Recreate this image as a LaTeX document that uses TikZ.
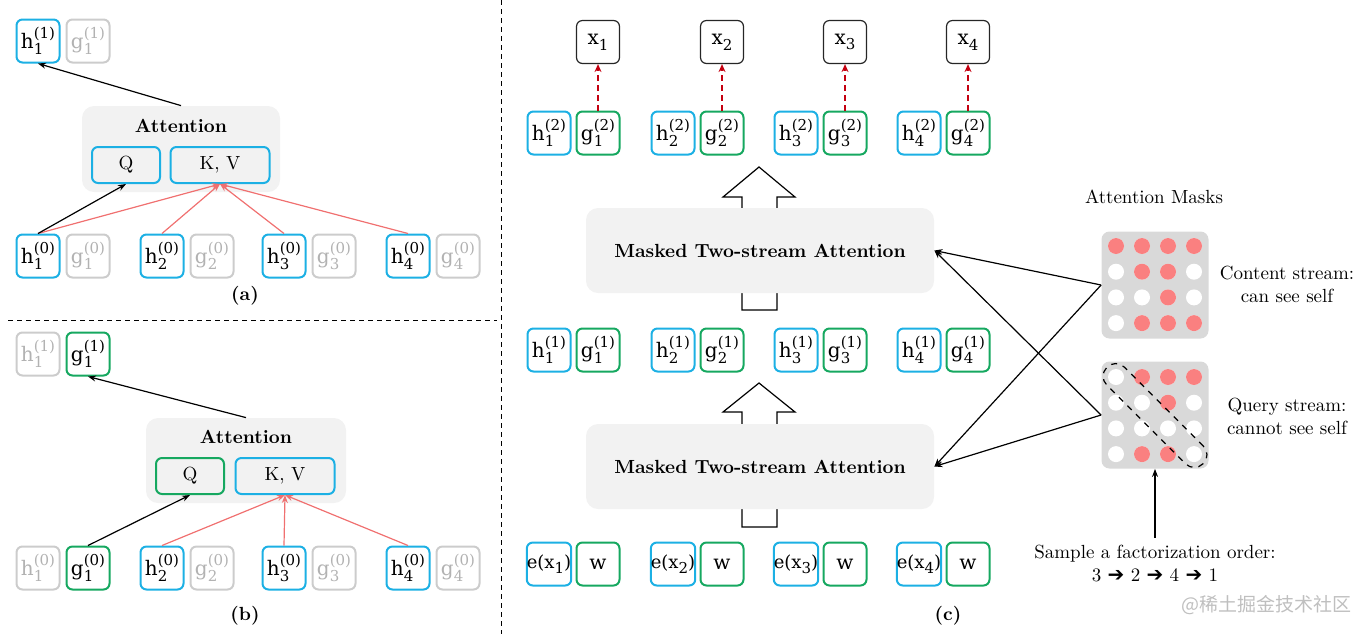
\documentclass[tikz,border=0pt]{standalone}
\usepackage{fontspec}
\newfontfamily\boxfont{DejaVu Serif}
\newfontfamily\symfont{DejaVu Sans}
\newfontfamily\cjk{Noto Sans CJK SC}
\usetikzlibrary{arrows.meta}
\definecolor{hblue}{RGB}{28,176,228}
\definecolor{ggreen}{RGB}{22,168,96}
\definecolor{offline}{RGB}{204,204,204}
\definecolor{offtext}{RGB}{178,178,178}
\definecolor{attfill}{RGB}{242,242,242}
\definecolor{kvred}{RGB}{240,112,112}
\definecolor{outred}{RGB}{196,0,16}
\definecolor{maskgray}{RGB}{217,217,217}
\definecolor{maskred}{RGB}{250,128,128}
\newcommand{\hg}[3]{#1\rlap{\raisebox{-0.55ex}{\fontsize{7.5}{9}\selectfont #2}}\raisebox{0.95ex}{\fontsize{7.5}{9}\selectfont(#3)}}
\newcommand{\xs}[2]{#1\raisebox{-0.55ex}{\fontsize{7.5}{9}\selectfont #2}}
\tikzset{
	cell/.style={rounded corners=3pt, line width=1pt, minimum width=21.5pt, minimum height=21.5pt, inner sep=0pt, font=\boxfont\fontsize{10}{12}\selectfont},
	hcell/.style={cell, draw=hblue},
	gcell/.style={cell, draw=ggreen},
	offcell/.style={cell, draw=offline, text=offtext},
	xcell/.style={cell, draw=black!85, line width=0.6pt},
	attbox/.style={fill=attfill, rounded corners=6pt, inner sep=0pt},
	qkv/.style={draw, rounded corners=3pt, line width=1pt, minimum height=18pt, inner sep=0pt},
	maskbox/.style={fill=maskgray, rounded corners=4pt, minimum size=53.5pt, inner sep=0pt},
	dotw/.style={circle, fill=white, minimum size=8pt, inner sep=0pt},
	dotr/.style={circle, fill=maskred, minimum size=8pt, inner sep=0pt},
	sep/.style={dash pattern=on 2.5pt off 2pt, line width=0.5pt}
}
\begin{document}
\begin{tikzpicture}[x=0.5pt, y=-0.5pt, font=\fontsize{9.5}{11.5}\selectfont, >={Stealth[length=4pt,width=3pt]}]
	\useasboundingbox (0,0) rectangle (1358,634);
	\draw[sep] (8,320) -- (497,320);
	\draw[sep] (501,0) -- (501,634);
	% (a)
	\node[hcell] (hta) at (38,41) {\hg{h}{1}{1}};
	\node[offcell] (gta) at (88,41) {\hg{g}{1}{1}};
	\node[attbox, minimum width=99pt, minimum height=43pt] (attA) at (181,149) {};
	\node[font=\bfseries\fontsize{9.5}{11.5}\selectfont] (attAt) at (181,126) {Attention};
	\node[qkv, draw=hblue, minimum width=34pt] (qA) at (126,165) {Q};
	\node[qkv, draw=hblue, minimum width=49.5pt] (kvA) at (220,165) {K, V};
	\foreach \i/\x in {1/38,2/162,3/284,4/408}{
		\node[hcell] (ha\i) at (\x,256) {\hg{h}{\i}{0}};
		\node[offcell] (ga\i) at (\x+50,256) {\hg{g}{\i}{0}};
		\draw[kvred, line width=0.6pt, ->] (ha\i.north) -- (kvA.south);
	}
	\draw[line width=0.6pt, ->] (ha1.north) -- (qA.south);
	\draw[line width=0.6pt, ->] (attA.north) -- (hta.south);
	\node[font=\bfseries\fontsize{9.5}{11.5}\selectfont] (capA) at (245,296) {(a)};
	% (b)
	\node[offcell] (htb) at (38,354) {\hg{h}{1}{1}};
	\node[gcell] (gtb) at (88,354) {\hg{g}{1}{1}};
	\node[attbox, minimum width=100pt, minimum height=42.5pt] (attB) at (246,460.5) {};
	\node[font=\bfseries\fontsize{9.5}{11.5}\selectfont] (attBt) at (246,437) {Attention};
	\node[qkv, draw=ggreen, minimum width=34pt] (qB) at (190,476) {Q};
	\node[qkv, draw=hblue, minimum width=49.5pt] (kvB) at (285,476) {K, V};
	\node[offcell] (hb1) at (38,568) {\hg{h}{1}{0}};
	\node[gcell] (gb1) at (88,568) {\hg{g}{1}{0}};
	\foreach \i/\x in {2/162,3/284,4/408}{
		\node[hcell] (hb\i) at (\x,568) {\hg{h}{\i}{0}};
		\node[offcell] (gb\i) at (\x+50,568) {\hg{g}{\i}{0}};
		\draw[kvred, line width=0.6pt, ->] (hb\i.north) -- (kvB.south);
	}
	\draw[line width=0.6pt, ->] (gb1.north) -- (qB.south);
	\draw[line width=0.6pt, ->] (attB.north) -- (gtb.south);
	\node[font=\bfseries\fontsize{9.5}{11.5}\selectfont] (capB) at (245,616) {(b)};
	% (c)
	\filldraw[fill=white, line width=0.6pt] (742,310) -- (742,197) -- (723,197) -- (759,167) -- (795,197) -- (777,197) -- (777,310) -- cycle;
	\filldraw[fill=white, line width=0.6pt] (742,527) -- (742,412) -- (723,412) -- (759,383) -- (795,412) -- (777,412) -- (777,527) -- cycle;
	\node[attbox, minimum width=174pt, minimum height=42.5pt, font=\bfseries\fontsize{9.5}{11.5}\selectfont] (mtsA) at (760,250.5) {Masked Two-stream Attention};
	\node[attbox, minimum width=174pt, minimum height=42.5pt, font=\bfseries\fontsize{9.5}{11.5}\selectfont] (mtsB) at (760,466.5) {Masked Two-stream Attention};
	\foreach \i/\x in {1/549,2/673,3/796,4/919}{
		\node[xcell] (x\i) at (\x+49,42) {\xs{x}{\i}};
		\node[hcell] (hc\i) at (\x,133) {\hg{h}{\i}{2}};
		\node[gcell] (gc\i) at (\x+49,133) {\hg{g}{\i}{2}};
		\node[hcell] (hm\i) at (\x,350) {\hg{h}{\i}{1}};
		\node[gcell] (gm\i) at (\x+49,350) {\hg{g}{\i}{1}};
		\node[hcell, font=\boxfont\fontsize{9}{11}\selectfont] (e\i) at (\x,564) {e(\xs{x}{\i})};
		\node[gcell] (w\i) at (\x+49,564) {w};
		\draw[outred, line width=1.2pt, dash pattern=on 3pt off 2pt, -{Stealth[length=4pt,width=3.5pt]}] (gc\i.north) -- (x\i.south);
	}
	\node (masks) at (1154,197) {Attention Masks};
	\node[maskbox] (mc) at (1155,285) {};
	\node[maskbox] (mq) at (1155,415) {};
	\foreach \c in {1,...,4}{
		\foreach \r in {1,...,4}{
			\node[dotw] (mcw\c\r) at (1116+26*\c-26,246+25.7*\r-25.7) {};
			\node[dotw] (mqw\c\r) at (1116+26*\c-26,377+25.7*\r-25.7) {};
		}
	}
	\foreach \c/\r in {1/1,2/1,3/1,4/1,2/2,3/2,3/3,2/4,3/4,4/4}{
		\node[dotr] (mcr\c\r) at (1116+26*\c-26,246+25.7*\r-25.7) {};
	}
	\foreach \c/\r in {2/1,3/1,4/1,3/2,2/4,3/4}{
		\node[dotr] (mqr\c\r) at (1116+26*\c-26,377+25.7*\r-25.7) {};
	}
	\node[draw, dashed, line width=0.6pt, rounded corners=6pt, rotate=-45, minimum width=68pt, minimum height=12.5pt, inner sep=0pt] (diag) at (1155,415.5) {};
	\node[align=center] (ctext) at (1287,284) {Content stream:\\can see self};
	\node[align=center] (qtext) at (1287,416) {Query stream:\\cannot see self};
	\draw[line width=0.6pt, ->] (mc.west) -- (mtsA.east);
	\draw[line width=0.6pt, ->] (mc.west) -- (mtsB.east);
	\draw[line width=0.6pt, ->] (mq.west) -- (mtsA.east);
	\draw[line width=0.6pt, ->] (mq.west) -- (mtsB.east);
	\node[align=center] (order) at (1155,563) {Sample a factorization order:\\3 {\symfont\fontsize{10}{11}\selectfont➔} 2 {\symfont\fontsize{10}{11}\selectfont➔} 4 {\symfont\fontsize{10}{11}\selectfont➔} 1};
	\draw[line width=0.6pt, ->] (order.north) -- (mq.south);
	\node[font=\bfseries\fontsize{9.5}{11.5}\selectfont] (capC) at (948,616) {(c)};
	\node[text=gray!50, font=\cjk\fontsize{9.5}{11}\selectfont] (mark) at (1266,605) {@稀土掘金技术社区};
\end{tikzpicture}
\end{document}
